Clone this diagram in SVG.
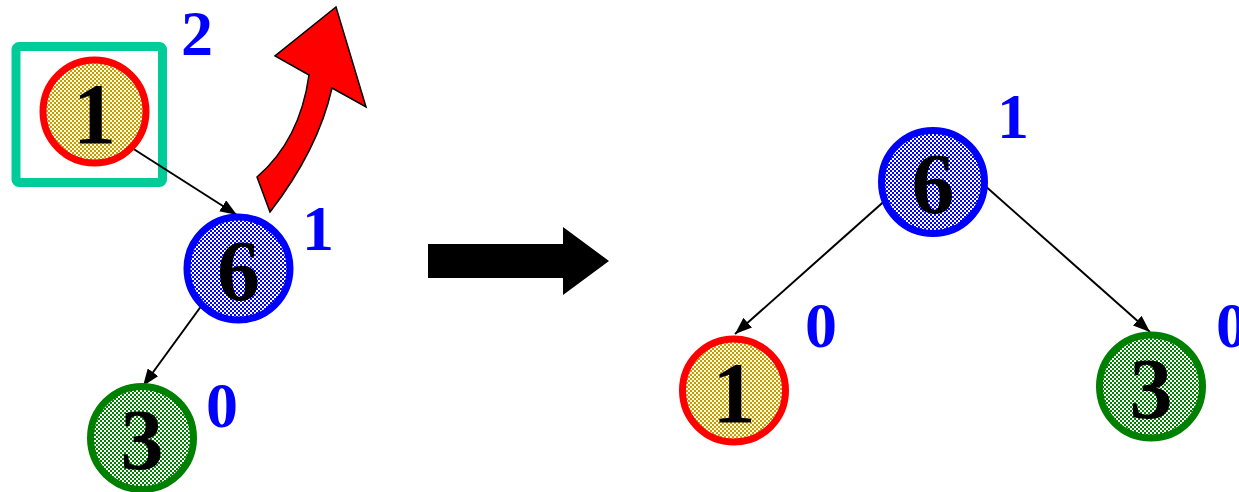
<svg xmlns="http://www.w3.org/2000/svg" width="1239" height="492" viewBox="0 0 1239 492">
<defs>
<pattern id="pY" width="4" height="4" patternUnits="userSpaceOnUse">
<rect width="4" height="4" fill="#FFFFE6"/>
<rect width="2" height="2" fill="#C99A00"/>
<rect x="2" y="2" width="2" height="2" fill="#C99A00"/>
</pattern>
<pattern id="pB" width="4" height="4" patternUnits="userSpaceOnUse">
<rect width="4" height="4" fill="#FFFFFF"/>
<rect width="2" height="2" fill="#0000FF"/>
<rect x="2" y="2" width="2" height="2" fill="#0000FF"/>
</pattern>
<pattern id="pG" width="4" height="4" patternUnits="userSpaceOnUse">
<rect width="4" height="4" fill="#FFFFFF"/>
<rect width="2" height="2" fill="#008000"/>
<rect x="2" y="2" width="2" height="2" fill="#008000"/>
</pattern>
<marker id="ah" markerUnits="userSpaceOnUse" markerWidth="17" markerHeight="13" refX="17" refY="6.5" orient="auto">
<path d="M0,0 L17,6.5 L0,13 z" fill="#000"/>
</marker>
</defs>
<style>
.node circle{stroke-width:7}
.digit{font-family:"Liberation Serif","Times New Roman",serif;font-weight:bold;font-size:86px;text-anchor:middle;fill:#000}
.bal{font-family:"Liberation Serif","Times New Roman",serif;font-weight:bold;font-size:64px;text-anchor:middle;fill:#0000FF}
.edge{stroke:#000;stroke-width:2;fill:none;marker-end:url(#ah)}
.yel{fill:url(#pY);stroke:#FF0000}
.blu{fill:url(#pB);stroke:#0000FF}
.grn{fill:url(#pG);stroke:#008000}
</style>
<rect x="16" y="46.5" width="146.5" height="136" rx="3" fill="none" stroke="#00CC99" stroke-width="9"/>
<path d="M270,212 Q318,150 332,88 L366,107 L336,7 L275,56 L309,75 Q300,140 257,177 Z" fill="#FF0000" stroke="#000" stroke-width="1.5" stroke-linejoin="miter"/>
<path d="M428,244 L563,244 L563,227 L609,261 L563,295 L563,278 L428,278 Z" fill="#000"/>
<g id="connectors">
<line class="edge" x1="132" y1="148" x2="237" y2="215"/>
<line class="edge" x1="202" y1="305" x2="143" y2="386"/>
<line class="edge" x1="889" y1="197" x2="735" y2="334"/>
<line class="edge" x1="983" y1="184" x2="1150" y2="332"/>
</g>
<g id="node-left-1" class="node">
<circle class="yel" cx="94.5" cy="111.5" r="51.5"/>
<text class="digit" x="94.5" y="142.5">1</text>
</g>
<g id="node-left-6" class="node">
<circle class="blu" cx="238.5" cy="268.5" r="51.5"/>
<text class="digit" x="238.5" y="299.5">6</text>
</g>
<g id="node-left-3" class="node">
<circle class="grn" cx="142" cy="438" r="51.5"/>
<text class="digit" x="142" y="469">3</text>
</g>
<g id="node-right-6" class="node">
<circle class="blu" cx="933" cy="182" r="51.5"/>
<text class="digit" x="933" y="213">6</text>
</g>
<g id="node-right-1" class="node">
<circle class="yel" cx="734" cy="390.5" r="51.5"/>
<text class="digit" x="734" y="421.5">1</text>
</g>
<g id="node-right-3" class="node">
<circle class="grn" cx="1151" cy="386.5" r="51.5"/>
<text class="digit" x="1151" y="417.5">3</text>
</g>
<g id="labels">
<text class="bal" x="197" y="55">2</text>
<text class="bal" x="318" y="250">1</text>
<text class="bal" x="222" y="427">0</text>
<text class="bal" x="1013" y="138">1</text>
<text class="bal" x="821" y="347">0</text>
<text class="bal" x="1232" y="347">0</text>
</g>
</svg>
